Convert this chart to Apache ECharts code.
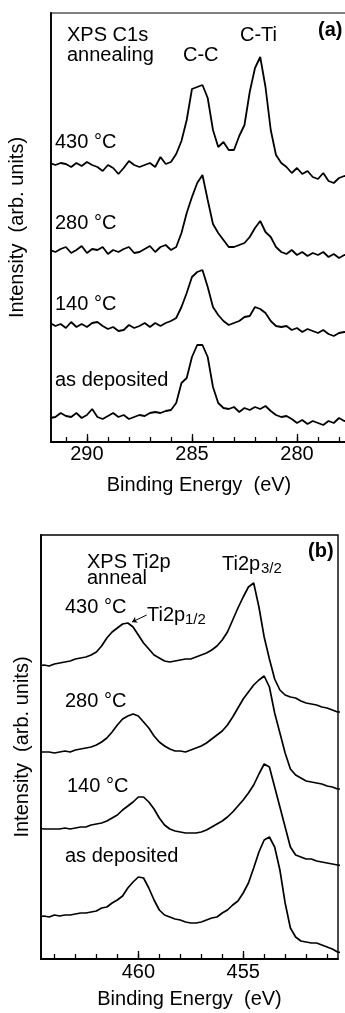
<!DOCTYPE html>
<html>
<head>
<meta charset="utf-8">
<script src="https://cdn.jsdelivr.net/npm/echarts@6/dist/echarts.min.js"></script>
<style>
  html, body { margin: 0; padding: 0; background: #fff; }
  #chart { width: 345px; height: 1013px; }
</style>
</head>
<body>
<div id="chart"></div>
<script>
// ---- panel (a): XPS C1s, binding energy (eV) ----
const energiesC1s = [
  291.75, 291.5, 291.25, 291,
  290.75, 290.5, 290.25, 290,
  289.75, 289.5, 289.25, 289,
  288.75, 288.5, 288.25, 288,
  287.75, 287.5, 287.25, 287,
  286.75, 286.5, 286.25, 286,
  285.75, 285.5, 285.25, 285,
  284.75, 284.5, 284.25, 284,
  283.75, 283.5, 283.25, 283,
  282.75, 282.5, 282.25, 282,
  281.75, 281.5, 281.25, 281,
  280.75, 280.5, 280.25, 280,
  279.75, 279.5, 279.25, 279,
  278.75, 278.5, 278.25, 278,
  277.75, 277.5
];
// intensities (arb. units, curves already offset as drawn)
const c1s430 = [279, 277, 279, 278, 275, 279, 276, 280, 277, 275, 271, 277, 274, 268, 274, 281, 277, 275, 277, 279,
  275, 285, 278, 280, 288, 301, 322, 353, 355, 357, 344, 312, 295, 300, 292, 292, 306, 317, 350, 374,
  385, 355, 312, 287, 279, 275, 269, 274, 268, 271, 265, 263, 269, 261, 259, 264, 266, 265];
const c1s280 = [192, 190, 193, 195, 189, 192, 196, 189, 193, 192, 195, 188, 192, 190, 193, 195, 189, 190, 193, 196,
  190, 195, 197, 192, 195, 209, 229, 245, 259, 267, 242, 218, 209, 202, 195, 195, 197, 199, 205, 214,
  221, 210, 205, 195, 190, 188, 192, 187, 190, 186, 189, 187, 190, 185, 188, 184, 187, 186];
const c1s140 = [119, 116, 118, 114, 120, 115, 118, 115, 119, 120, 116, 113, 115, 111, 112, 117, 114, 116, 119, 115,
  119, 116, 119, 121, 124, 135, 149, 165, 170, 172, 155, 135, 127, 121, 117, 119, 121, 125, 126, 135,
  133, 129, 121, 116, 115, 116, 112, 114, 110, 113, 111, 109, 112, 108, 106, 109, 110, 109];
const c1sAsDep = [24, 25, 29, 26, 25, 29, 24, 27, 33, 25, 23, 26, 29, 25, 27, 23, 25, 27, 26, 29,
  30, 29, 31, 32, 39, 59, 64, 85, 97, 97, 85, 55, 39, 34, 33, 35, 30, 34, 32, 35,
  33, 36, 31, 27, 25, 26, 23, 19, 22, 18, 21, 19, 17, 21, 19, 24, 21, 22];
const minorTicksC1s = [278, 279, 280, 281, 282, 283, 284, 285, 286, 287, 288, 289, 290, 291];
const labelsC1s = [280, 285, 290];

// ---- panel (b): XPS Ti2p ----
const energiesTi2p = [
  464.75, 464.5, 464.25, 464,
  463.75, 463.5, 463.25, 463,
  462.75, 462.5, 462.25, 462,
  461.75, 461.5, 461.25, 461,
  460.75, 460.5, 460.25, 460,
  459.75, 459.5, 459.25, 459,
  458.75, 458.5, 458.25, 458,
  457.75, 457.5, 457.25, 457,
  456.75, 456.5, 456.25, 456,
  455.75, 455.5, 455.25, 455,
  454.75, 454.5, 454.25, 454,
  453.75, 453.5, 453.25, 453,
  452.75, 452.5, 452.25, 452,
  451.75, 451.5, 451.25, 451,
  450.75, 450.5, 450.25
];
const ti430 = [293, 294, 293, 295, 296, 297, 298, 300, 301, 302, 304, 307, 313, 321, 327, 331, 335, 336, 332, 324,
  316, 310, 304, 301, 298, 297, 298, 299, 300, 300, 302, 304, 306, 309, 313, 319, 327, 339, 351, 362,
  372, 376, 352, 322, 300, 280, 269, 264, 262, 261, 258, 256, 255, 254, 252, 251, 249, 247, 247];
const ti280 = [207, 207, 207, 206, 207, 208, 207, 209, 210, 211, 212, 214, 217, 221, 227, 234, 240, 243, 245, 243,
  237, 231, 223, 217, 213, 210, 208, 208, 207, 209, 211, 213, 216, 220, 224, 228, 234, 242, 251, 260,
  267, 274, 279, 283, 272, 246, 226, 206, 190, 184, 181, 178, 177, 176, 175, 173, 172, 170, 170];
const ti140 = [131, 130, 130, 130, 130, 131, 130, 131, 132, 132, 134, 135, 136, 138, 141, 144, 149, 153, 157, 162,
  162, 157, 150, 141, 134, 130, 128, 127, 126, 126, 126, 127, 129, 132, 135, 138, 142, 147, 153, 159,
  166, 174, 185, 195, 192, 172, 152, 132, 112, 104, 102, 100, 100, 98, 97, 96, 95, 94, 93];
const tiAsDep = [42, 43, 42, 44, 43, 44, 44, 45, 46, 46, 47, 48, 51, 52, 56, 59, 63, 71, 77, 82,
  81, 71, 59, 49, 44, 42, 40, 39, 37, 36, 36, 37, 39, 41, 42, 46, 49, 54, 58, 66,
  76, 91, 107, 119, 122, 112, 89, 56, 31, 22, 18, 17, 16, 16, 14, 12, 10, 7, 6];
const minorTicksTi2p = [451, 452, 453, 454, 455, 456, 457, 458, 459, 460, 461, 462, 463, 464];
const labelsTi2p = [455, 460];
// leader line from the Ti2p1/2 label to its peak (eV, intensity)
const leaderFrom = [459.6, 344];
const leaderTo = [460.3, 337];

const FONT = '"Liberation Sans", Arial, Helvetica, sans-serif';

function pairs(xs, ys) {
  return xs.map((x, i) => [x, ys[i]]);
}

function energyAxes(gridIndex, min, max, minor, major, labelMargin, nameGap) {
  return [
    {
      gridIndex, type: 'value', position: 'bottom', inverse: true, min, max,
      axisLine: { show: true, onZero: false, lineStyle: { color: '#000', width: 1.8 } },
      axisTick: { show: true, inside: true, length: 5, customValues: minor, lineStyle: { color: '#000', width: 1.3 } },
      axisLabel: { show: false },
      splitLine: { show: false }
    },
    {
      gridIndex, type: 'value', position: 'bottom', inverse: true, min, max,
      axisLine: { show: false, onZero: false },
      axisTick: { show: true, inside: true, length: 8, customValues: major, lineStyle: { color: '#000', width: 1.3 } },
      axisLabel: { show: true, customValues: major, margin: labelMargin, color: '#000', fontSize: 20, fontFamily: FONT },
      splitLine: { show: false },
      name: 'Binding Energy  (eV)',
      nameLocation: 'middle',
      nameGap,
      nameTextStyle: { color: '#000', fontSize: 20, fontFamily: FONT }
    }
  ];
}

function intensityAxis(gridIndex, max, nameGap) {
  return {
    gridIndex, type: 'value', min: 0, max,
    axisLine: { show: true, lineStyle: { color: '#000', width: 1.8 } },
    axisTick: { show: false },
    axisLabel: { show: false },
    splitLine: { show: false },
    name: 'Intensity  (arb. units)',
    nameLocation: 'middle',
    nameGap,
    nameTextStyle: { color: '#000', fontSize: 20, fontFamily: FONT }
  };
}

function curve(xIdx, yIdx, xs, ys, width, extra) {
  return Object.assign({
    type: 'line',
    xAxisIndex: xIdx,
    yAxisIndex: yIdx,
    data: pairs(xs, ys),
    showSymbol: false,
    symbol: 'none',
    clip: true,
    lineStyle: { color: '#000', width },
    animation: false
  }, extra || {});
}

function label(text, x, y, opts) {
  opts = opts || {};
  return {
    type: 'text',
    x, y,
    silent: true,
    style: {
      text,
      fill: '#000',
      fontSize: opts.size || 20,
      fontWeight: opts.bold ? 'bold' : 'normal',
      fontFamily: FONT,
      align: 'left',
      verticalAlign: 'middle',
      textAlign: 'left',
      textVerticalAlign: 'middle'
    }
  };
}

const chart = echarts.init(document.getElementById('chart'), null, { renderer: 'canvas' });

chart.setOption({
  animation: false,
  backgroundColor: '#fff',
  grid: [
    { left: 51, top: 13, width: 296, height: 429, show: true, borderColor: '#000', borderWidth: 1.2, outerBoundsMode: 'none' },
    { left: 41, top: 535, width: 297, height: 424, show: true, borderColor: '#000', borderWidth: 1.4, outerBoundsMode: 'none' }
  ],
  xAxis: [
    ...energyAxes(0, 277.62, 291.71, minorTicksC1s, labelsC1s, 2, 33),
    ...energyAxes(1, 450.48, 464.64, minorTicksTi2p, labelsTi2p, 3, 30)
  ],
  yAxis: [
    intensityAxis(0, 429, 24),
    intensityAxis(1, 424, 9)
  ],
  series: [
    curve(0, 0, energiesC1s, c1s430, 1.8),
    curve(0, 0, energiesC1s, c1s280, 1.8),
    curve(0, 0, energiesC1s, c1s140, 1.8),
    curve(0, 0, energiesC1s, c1sAsDep, 1.8),
    curve(2, 1, energiesTi2p, ti430, 1.7, {
      markLine: {
        silent: true,
        animation: false,
        symbol: ['none', 'arrow'],
        symbolSize: 5,
        label: { show: false },
        lineStyle: { color: '#000', width: 1, type: 'solid' },
        data: [[{ coord: leaderFrom }, { coord: leaderTo }]]
      }
    }),
    curve(2, 1, energiesTi2p, ti280, 1.7),
    curve(2, 1, energiesTi2p, ti140, 1.7),
    curve(2, 1, energiesTi2p, tiAsDep, 1.7)
  ],
  graphic: [
    label('XPS C1s', 67, 35),
    label('annealing', 67, 55),
    label('C-C', 183, 55),
    label('C-Ti', 240, 35),
    label('(a)', 318, 30, { bold: true }),
    label('430 °C', 55, 142),
    label('280 °C', 55, 223),
    label('140 °C', 55, 304),
    label('as deposited', 55, 380),

    label('XPS Ti2p', 87, 562),
    label('anneal', 87, 578),
    label('Ti2p', 222, 564),
    label('3/2', 261, 569, { size: 15 }),
    label('(b)', 308, 551, { bold: true }),
    label('430 °C', 65, 607),
    label('Ti2p', 147, 615),
    label('1/2', 185, 620, { size: 15 }),
    label('280 °C', 65, 701),
    label('140 °C', 67, 786),
    label('as deposited', 65, 856)
  ]
});
</script>
</body>
</html>
